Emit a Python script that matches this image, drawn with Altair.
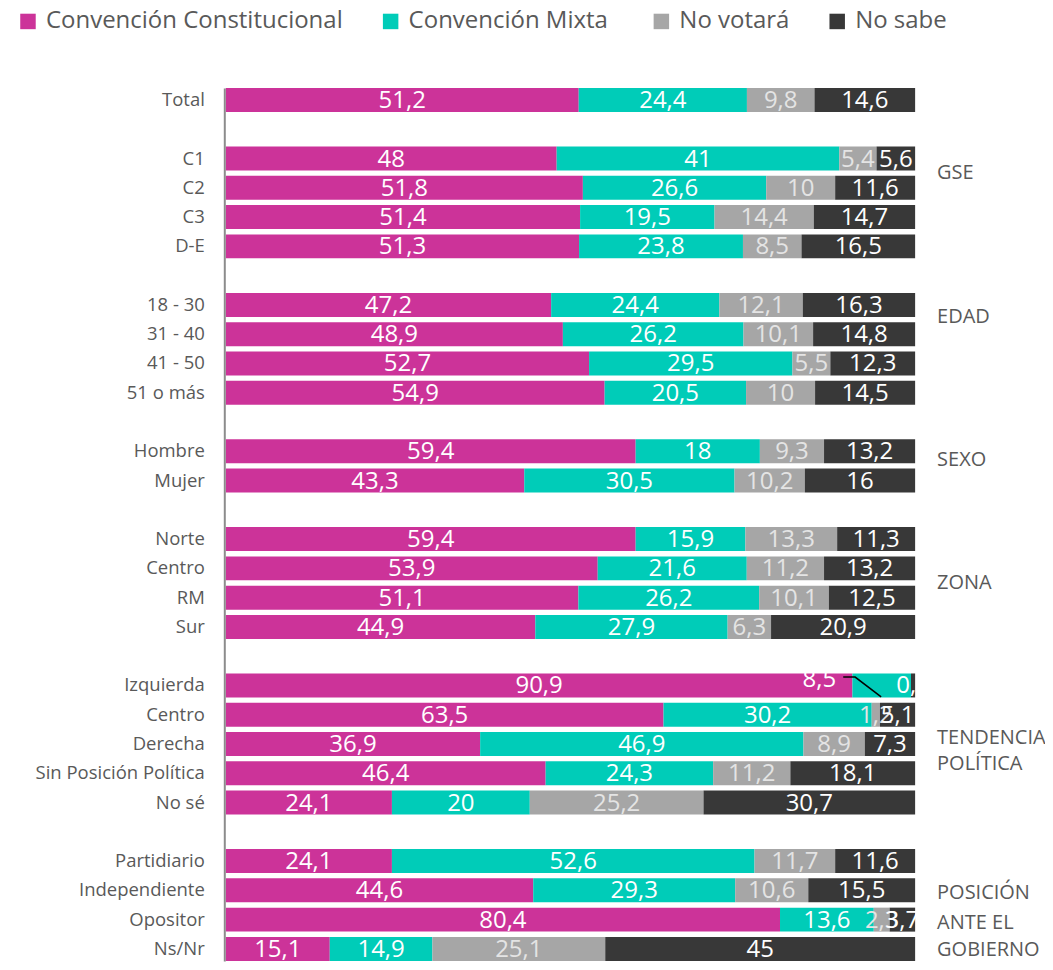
import altair as alt
import pandas as pd

# ---- data ----
groups = ["", "GSE", "EDAD", "SEXO", "ZONA", "TENDENCIA POLÍTICA", "POSICIÓN ANTE EL GOBIERNO"]
categories = [
    ["Total"],
    ["C1", "C2", "C3", "D-E"],
    ["18 - 30", "31 - 40", "41 - 50", "51 o más"],
    ["Hombre", "Mujer"],
    ["Norte", "Centro", "RM", "Sur"],
    ["Izquierda", "Centro ", "Derecha", "Sin Posición Política", "No sé"],
    ["Partidiario ", "Independiente", "Opositor", "Ns/Nr"],
]
series = ["Convención Constitucional\u00a0\u00a0\u00a0\u00a0\u00a0\u00a0", "Convención  Mixta",
          "No votará", "No sabe"]
colors = ["#CC3399", "#00CCB8", "#A6A6A6", "#383838"]
label_colors = ["#FFFFFF", "#FFFFFF", "#E4E4E4", "#FFFFFF"]

constitucional = [51.2, 48, 51.8, 51.4, 51.3, 47.2, 48.9, 52.7, 54.9, 59.4, 43.3, 59.4, 53.9, 51.1, 44.9,
                  90.9, 63.5, 36.9, 46.4, 24.1, 24.1, 44.6, 80.4, 15.1]
mixta = [24.4, 41, 26.6, 19.5, 23.8, 24.4, 26.2, 29.5, 20.5, 18, 30.5, 15.9, 21.6, 26.2, 27.9,
         8.5, 30.2, 46.9, 24.3, 20, 52.6, 29.3, 13.6, 14.9]
no_votara = [9.8, 5.4, 10, 14.4, 8.5, 12.1, 10.1, 5.5, 10, 9.3, 10.2, 13.3, 11.2, 10.1, 6.3,
             0, 1.2, 8.9, 11.2, 25.2, 11.7, 10.6, 2.3, 25.1]
no_sabe = [14.6, 5.6, 11.6, 14.7, 16.5, 16.3, 14.8, 12.3, 14.5, 13.2, 16, 11.3, 13.2, 12.5, 20.9,
           0.6, 5.1, 7.3, 18.1, 30.7, 11.6, 15.5, 3.7, 45]

# group label placement (row units) and lines
group_label_rows = [[], [2.5], [7.4], [12.3], [16.5], [21.8, 22.7], [27.1, 28.1, 29.05]]
group_label_lines = [[], ["GSE"], ["EDAD"], ["SEXO"], ["ZONA"], ["TENDENCIA", "POLÍTICA"],
                     ["POSICIÓN", "ANTE EL", "GOBIERNO"]]

# ---- build tables ----
vals = [constitucional, mixta, no_votara, no_sabe]
row = 0
flat = []
for g, cats in enumerate(categories):
    for c in cats:
        flat.append((c, row))
        row += 1
    row += 1  # gap
n_rows = row - 1

recs = []
for i, (c, r) in enumerate(flat):
    for s in range(4):
        v = vals[s][i]
        recs.append({"cat": c, "row": r, "serie": series[s], "order": s, "value": v,
                     "label": f"{v:g}".replace(".", ","), "tcolor": label_colors[s],
                     "skip": (c == "Izquierda" and s == 1) or v == 0})
df = pd.DataFrame(recs)
cats_df = pd.DataFrame([{"cat": c, "row": r} for c, r in flat])
glabels = []
for g in range(len(groups)):
    for rr, t in zip(group_label_rows[g], group_label_lines[g]):
        glabels.append({"row": rr, "text": t})
glabels_df = pd.DataFrame(glabels)

STEP = 29.3
TOP = 77
W, H = 690, 877
ymax = -0.5 + H / STEP
yscale = alt.Scale(domain=[-0.5, ymax], reverse=True, nice=False, zero=False, padding=0)
xscale = alt.Scale(domain=[0, 1], nice=False, zero=False, padding=0)
FONT = "Open Sans"

base = alt.Chart(df).transform_stack(
    stack="value", groupby=["row"], as_=["x0", "x1"], offset="normalize",
    sort=[alt.SortField("order", "ascending")]
)

bars = base.mark_bar(size=24).encode(
    y=alt.Y("row:Q", scale=yscale, axis=None),
    x=alt.X("x0:Q", scale=xscale, axis=None),
    x2="x1:Q",
    color=alt.Color("serie:N", scale=alt.Scale(domain=series, range=colors),
                    legend=alt.Legend(title=None, orient="none", legendX=-210, legendY=-76,
                                      direction="horizontal", symbolType="square",
                                      symbolSize=240, symbolStrokeWidth=0, labelFontSize=24,
                                      labelFont=FONT, labelColor="#595959", labelOffset=6,
                                      columnPadding=35, padding=0, labelLimit=500)),
    order=alt.Order("order:Q"),
)

labels = base.transform_filter("!datum.skip").transform_calculate(
    mid="(datum.x0 + datum.x1) / 2"
).mark_text(fontSize=24, font=FONT, baseline="middle", align="center", dy=1).encode(
    y=alt.Y("row:Q", scale=yscale),
    x=alt.X("mid:Q", scale=xscale),
    text="label:N",
    color=alt.Color("tcolor:N", scale=None),
)

# callout for Izquierda "8,5"
call_df = pd.DataFrame({"x": [0.861], "row": [20], "text": ["8,5"]})
callout = alt.Chart(call_df).mark_text(fontSize=24, font=FONT, color="#FFFFFF", baseline="middle",
                                       dy=-5).encode(
    x=alt.X("x:Q", scale=xscale), y=alt.Y("row:Q", scale=yscale), text="text:N")
lead_df = pd.DataFrame({"x": [0.8957, 0.913, 0.9507], "row": [19.715, 19.715, 20.39], "o": [0, 1, 2]})
leader = alt.Chart(lead_df).mark_line(color="#000000", strokeWidth=1.5).encode(
    x=alt.X("x:Q", scale=xscale), y=alt.Y("row:Q", scale=yscale), order="o:Q")

cat_text = alt.Chart(cats_df).mark_text(fontSize=18.5, font=FONT, color="#595959", align="right",
                                        baseline="middle").encode(
    x=alt.value(-21), y=alt.Y("row:Q", scale=yscale), text="cat:N")

group_text = alt.Chart(glabels_df).mark_text(fontSize=20, font=FONT, color="#595959", align="left",
                                             baseline="middle").encode(
    x=alt.value(712), y=alt.Y("row:Q", scale=yscale), text="text:N")

axis_line = alt.Chart(pd.DataFrame({"a": [0]})).mark_rule(color="#8C8C8C", strokeWidth=2).encode(
    x=alt.value(-1), y=alt.value(3), y2=alt.value(H))

chart = alt.layer(bars, labels, callout, leader, cat_text, group_text, axis_line).resolve_scale(
    color="independent"
).properties(
    width=W, height=H,
    padding={"left": 218, "top": TOP, "right": 130, "bottom": 0},
    autosize=alt.AutoSizeParams(type="none"),
).configure_view(stroke=None)

chart.save("out.html", embed_options={"renderer": "svg", "actions": False})
